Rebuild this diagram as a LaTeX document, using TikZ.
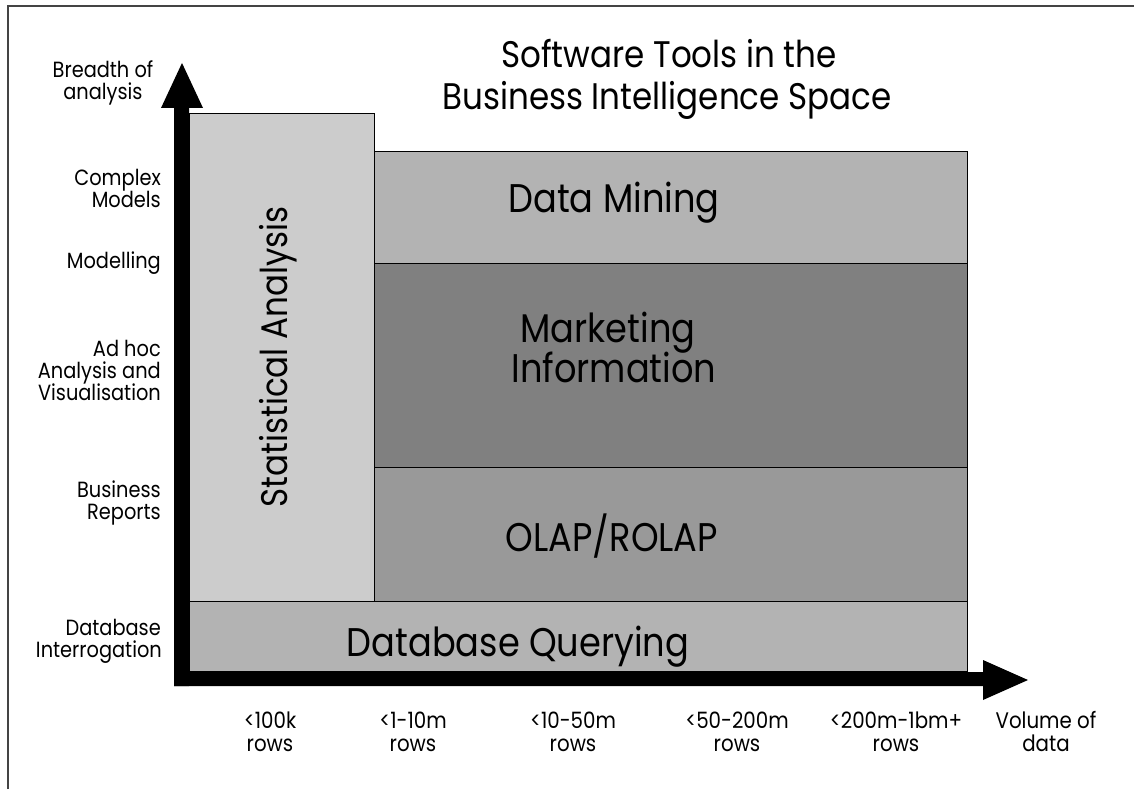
\documentclass[tikz,border=0pt]{standalone}
\usepackage{fontspec}
\setmainfont[FakeStretch=0.88]{Poppins}
\definecolor{statgray}{HTML}{CCCCCC}
\definecolor{minegray}{HTML}{B3B3B3}
\definecolor{mktgray}{HTML}{808080}
\definecolor{olapgray}{HTML}{999999}
\definecolor{framegray}{HTML}{444444}
\tikzset{
  box/.style={draw=black, line width=0.8pt, inner sep=0pt, outer sep=0pt, anchor=north west},
  big/.style={font=\fontsize{40}{40}\selectfont, anchor=base, inner sep=0pt},
  ttl/.style={font=\fontsize{37}{37}\selectfont, anchor=base, inner sep=0pt},
  ylab/.style={font=\fontsize{22}{22}\selectfont, anchor=base east, inner sep=0pt},
  ylabc/.style={font=\fontsize{22}{22}\selectfont, anchor=base, inner sep=0pt},
  xlab/.style={font=\fontsize{22.5}{22.5}\selectfont, anchor=base, inner sep=0pt},
  axis/.style={fill=black, draw=none}
}
\begin{document}
\begin{tikzpicture}[x=1pt,y=-1pt]
\useasboundingbox (0,0) rectangle (1134,789);
% frame
\draw[framegray, line width=1.5pt] (8,789) -- (8,6) -- (1134,6);
% title
\node[ttl] (t1) at (669,68) {Software Tools in the};
\node[ttl] (t2) at (667,110) {Business Intelligence Space};
% boxes
\node[box, fill=statgray, minimum width=185pt, minimum height=488pt] (stat) at (189,113) {};
\node[box, fill=minegray, minimum width=593pt, minimum height=112pt] (mine) at (374,151) {};
\node[box, fill=mktgray, minimum width=593pt, minimum height=204pt] (mkt) at (374,263) {};
\node[box, fill=olapgray, minimum width=593pt, minimum height=134pt] (olap) at (374,467) {};
\node[box, fill=minegray, minimum width=778pt, minimum height=70pt] (dbq) at (189,601) {};
% box labels
\node[big] (l-mine) at (614,212) {Data Mining};
\node[big] (l-mkt1) at (608,342) {Marketing};
\node[big] (l-mkt2) at (614,382) {Information};
\node[big] (l-olap) at (612,551) {OLAP/ROLAP};
\node[big] (l-dbq) at (518,656) {Database Querying};
\node[big, font=\fontsize{37}{37}\selectfont, rotate=90] (l-stat) at (287,357) {Statistical Analysis};
% axes
\fill[axis] (174,686) -- (174,108) -- (161,108) -- (182,63) -- (203,108) -- (189,108) -- (189,686) -- cycle;
\fill[axis] (174,672) -- (983,672) -- (983,660) -- (1028,680) -- (983,700) -- (983,686) -- (174,686) -- cycle;
% y labels
\node[ylabc] (y1a) at (103,78) {Breadth of};
\node[ylabc] (y1b) at (103,100) {analysis};
\node[ylab] (y2a) at (161,185) {Complex};
\node[ylab] (y2b) at (161,207) {Models};
\node[ylab] (y3) at (161,268) {Modelling};
\node[ylab] (y4a) at (161,356) {Ad hoc};
\node[ylab] (y4b) at (161,378) {Analysis and};
\node[ylab] (y4c) at (161,400) {Visualisation};
\node[ylab] (y5a) at (161,497) {Business};
\node[ylab] (y5b) at (161,519) {Reports};
\node[ylab] (y6a) at (161,635) {Database};
\node[ylab] (y6b) at (162,657) {Interrogation};
% x labels
\node[xlab] (x1a) at (270,728) {<100k};
\node[xlab] (x1b) at (270,751) {rows};
\node[xlab] (x2a) at (413,728) {<1-10m};
\node[xlab] (x2b) at (413,751) {rows};
\node[xlab] (x3a) at (573,728) {<10-50m};
\node[xlab] (x3b) at (573,751) {rows};
\node[xlab] (x4a) at (737,728) {<50-200m};
\node[xlab] (x4b) at (737,751) {rows};
\node[xlab] (x5a) at (896,728) {<200m-1bm+};
\node[xlab] (x5b) at (896,751) {rows};
\node[xlab] (x6a) at (1046,728) {Volume of};
\node[xlab] (x6b) at (1046,751) {data};
\end{tikzpicture}
\end{document}
